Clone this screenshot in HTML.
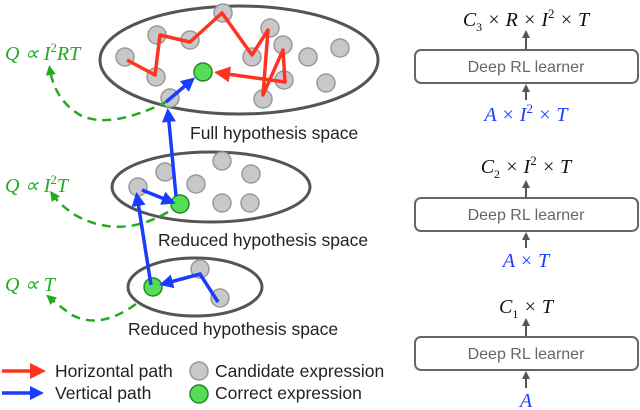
<!DOCTYPE html><html><head><style>body{margin:0;background:#fff}svg{display:block}
.s{font-family:"Liberation Sans",sans-serif;font-size:17.5px;fill:#222}
.m{font-family:"Liberation Serif",serif;font-style:italic;font-size:20px}
.b{font-family:"Liberation Sans",sans-serif;font-size:16px;fill:#666}
</style></head><body>
<svg width="640" height="410" viewBox="0 0 640 410">
<defs>
<marker id="bl" markerWidth="14" markerHeight="14" refX="10" refY="7" orient="auto" markerUnits="userSpaceOnUse"><path d="M0,0L14,7L0,14z" fill="#1a3cff"/></marker>
<marker id="rd" markerWidth="16" markerHeight="16" refX="10" refY="8" orient="auto" markerUnits="userSpaceOnUse"><path d="M0,0L16,8L0,16z" fill="#f32"/></marker>
<marker id="g" markerWidth="10" markerHeight="10" refX="5" refY="5" orient="auto" markerUnits="userSpaceOnUse"><path d="M0,0L10,5L0,10z" fill="#2a2"/></marker>
<marker id="k" markerWidth="8" markerHeight="8" refX="6" refY="4" orient="auto" markerUnits="userSpaceOnUse"><path d="M0,0L8,4L0,8z" fill="#555"/></marker>
</defs>
<g fill="none" stroke="#555" stroke-width="3">
<ellipse cx="239" cy="60" rx="139" ry="54"/>
<ellipse cx="211" cy="187" rx="99" ry="35"/>
<ellipse cx="195" cy="287" rx="67" ry="29"/>
</g>
<g fill="#c8c8c8" stroke="#999" stroke-width="1.5">
<circle cx="125" cy="57" r="9"/><circle cx="157" cy="35" r="9"/><circle cx="190" cy="40" r="9"/><circle cx="223" cy="13" r="9"/><circle cx="270" cy="28" r="9"/><circle cx="252" cy="57" r="9"/><circle cx="283" cy="45" r="9"/><circle cx="308" cy="57" r="9"/><circle cx="340" cy="48" r="9"/><circle cx="156" cy="77" r="9"/><circle cx="170" cy="98" r="9"/><circle cx="284" cy="80" r="9"/><circle cx="326" cy="83" r="9"/><circle cx="263" cy="99" r="9"/>
<circle cx="165" cy="172" r="9"/><circle cx="222" cy="161" r="9"/><circle cx="251" cy="174" r="9"/><circle cx="138" cy="187" r="9"/><circle cx="196" cy="184" r="9"/><circle cx="222" cy="203" r="9"/><circle cx="250" cy="203" r="9"/>
<circle cx="200" cy="269" r="9"/><circle cx="220" cy="298" r="9"/>
</g>
<g fill="#5d5" stroke="#282" stroke-width="1.5">
<circle cx="203" cy="72" r="9"/><circle cx="180" cy="204" r="9"/><circle cx="153" cy="287" r="9"/>
</g>
<g fill="none" stroke="#2a2" stroke-width="2.5" stroke-dasharray="9,6">
<path d="M168,101 Q110,130 80,115 Q55,100 50,70" marker-end="url(#g)"/>
<path d="M168,212 Q120,240 75,215 Q60,205 53,195" marker-end="url(#g)"/>
<path d="M136,304 Q100,330 72,315 Q58,305 50,298" marker-end="url(#g)"/>
</g>
<path d="M127,60L155,75L160,35L190,42L222,13L252,55L268,30L263,95L283,50L285,82L220,73" fill="none" stroke="#f32" stroke-width="3.5" stroke-linejoin="round" marker-end="url(#rd)"/>
<g fill="none" stroke="#1a3cff" stroke-width="3.5">
<path d="M176,196L168,112" marker-end="url(#bl)"/>
<path d="M166,102L192,80" marker-end="url(#bl)"/>
<path d="M151,285L137,196" marker-end="url(#bl)"/>
<path d="M142,190L172,202" marker-end="url(#bl)"/>
<path d="M218,302L200,274L163,284" marker-end="url(#bl)"/>
</g>
<g class="m" fill="#2a2">
<text x="5" y="60">Q ∝ I<tspan dy="-8" font-size="13" font-style="normal">2</tspan><tspan dy="8">RT</tspan></text>
<text x="5" y="192">Q ∝ I<tspan dy="-8" font-size="13" font-style="normal">2</tspan><tspan dy="8">T</tspan></text>
<text x="5" y="291">Q ∝ T</text>
</g>
<text class="s" x="190" y="139">Full  hypothesis space</text>
<text class="s" x="158" y="246">Reduced hypothesis space</text>
<text class="s" x="128" y="335">Reduced hypothesis space</text>
<path d="M2,371L40,371" stroke="#f32" stroke-width="3.5" marker-end="url(#rd)"/>
<path d="M2,393L40,393" stroke="#1a3cff" stroke-width="3.5" marker-end="url(#bl)"/>
<text class="s" x="55" y="377">Horizontal path</text>
<text class="s" x="55" y="399">Vertical path</text>
<circle cx="199" cy="371" r="9" fill="#c8c8c8" stroke="#999" stroke-width="1.5"/>
<circle cx="199" cy="394" r="9" fill="#5d5" stroke="#282" stroke-width="1.5"/>
<text class="s" x="215" y="377">Candidate expression</text>
<text class="s" x="215" y="399">Correct expression</text>
<g fill="#fff" stroke="#666" stroke-width="2">
<rect x="415" y="50" width="223" height="33" rx="6"/>
<rect x="415" y="198" width="223" height="33" rx="6"/>
<rect x="415" y="337" width="223" height="33" rx="6"/>
</g>
<text class="b" x="526" y="72" text-anchor="middle">Deep RL learner</text>
<text class="b" x="526" y="220" text-anchor="middle">Deep RL learner</text>
<text class="b" x="526" y="359" text-anchor="middle">Deep RL learner</text>
<g stroke="#555" stroke-width="2">
<path d="M526,49L526,32" marker-end="url(#k)"/><path d="M526,100L526,86" marker-end="url(#k)"/>
<path d="M526,197L526,182" marker-end="url(#k)"/><path d="M526,248L526,234" marker-end="url(#k)"/>
<path d="M526,336L526,320" marker-end="url(#k)"/><path d="M526,388L526,373" marker-end="url(#k)"/>
</g>
<g class="m" text-anchor="middle">
<text x="526" y="26" fill="#111">C<tspan dy="5" font-size="12" font-style="normal">3</tspan><tspan dy="-5"> × R × I</tspan><tspan dy="-8" font-size="13" font-style="normal">2</tspan><tspan dy="8"> × T</tspan></text>
<text x="526" y="121" fill="#1a3cff">A × I<tspan dy="-8" font-size="13" font-style="normal">2</tspan><tspan dy="8"> × T</tspan></text>
<text x="526" y="173" fill="#111">C<tspan dy="5" font-size="12" font-style="normal">2</tspan><tspan dy="-5"> × I</tspan><tspan dy="-8" font-size="13" font-style="normal">2</tspan><tspan dy="8"> × T</tspan></text>
<text x="526" y="267" fill="#1a3cff">A × T</text>
<text x="526" y="313" fill="#111">C<tspan dy="5" font-size="12" font-style="normal">1</tspan><tspan dy="-5"> × T</tspan></text>
<text x="526" y="407" fill="#1a3cff">A</text>
</g>
</svg></body></html>
